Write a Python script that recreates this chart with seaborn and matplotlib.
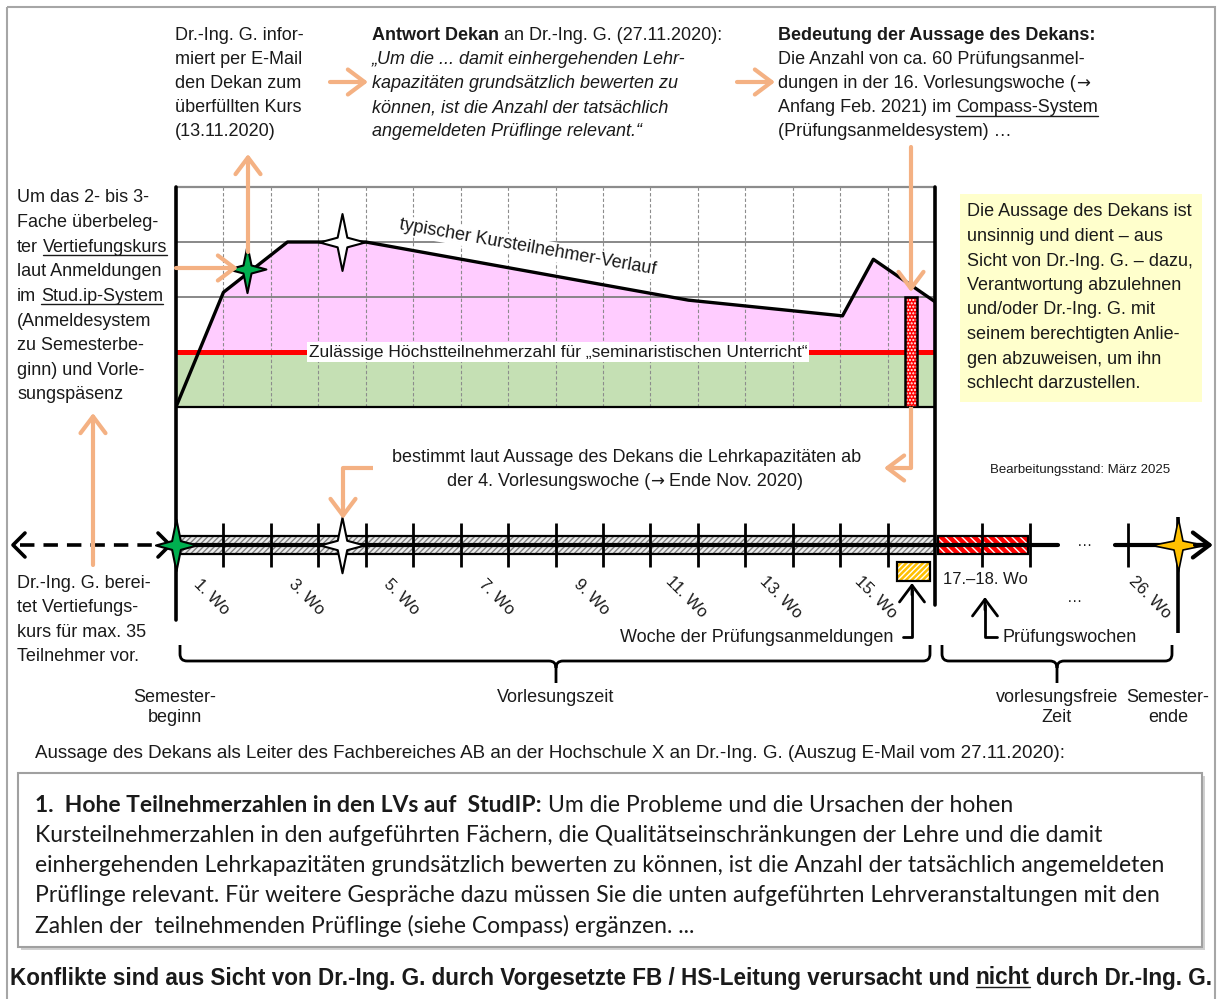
import numpy as np
import pandas as pd
import matplotlib
matplotlib.use('Agg')
import matplotlib.pyplot as plt
import matplotlib.transforms as mtransforms
from matplotlib.path import Path
from matplotlib.patches import Rectangle, PathPatch
import seaborn as sns

# course participants over the lecture weeks
weeks = [0, 1.0, 2.35, 4.0, 10.8, 14.05, 14.7, 16]
participants = [0, 73, 105, 105, 68, 58, 94, 67]
seminar_limit = 35
grid_levels = [70, 105]
y_top = 140
exam_week = 15.5
exam_registrations = 70
star_weeks = [1.5, 3.5]
star_values = [88, 105]
lecture_ticks = list(range(1, 16))
label_weeks = [1, 3, 5, 7, 9, 11, 13, 15]
exam_ticks = [17, 18]

ORANGE = '#F4B183'
GREEN = '#00B050'
GOLD = '#FFC000'
TXT = '#1a1a1a'

sns.set_theme(style='white')
plt.rcParams['font.family'] = ['Liberation Sans', 'DejaVu Sans']
plt.rcParams['hatch.linewidth'] = 1.0

fig = plt.figure(figsize=(12.19, 9.99), dpi=100)
ov = fig.add_axes([0, 0, 1, 1])
ov.set_xlim(0, 1219)
ov.set_ylim(999, 0)
ov.axis('off')
ov.set_zorder(3)

X0, X1, YT, YB = 176, 935, 187, 407
ax = fig.add_axes([X0 / 1219, 1 - YB / 999, (X1 - X0) / 1219, (YB - YT) / 999])
ax.set_xlim(0, 16)
ax.set_ylim(0, y_top)
ax.axis('off')
renderer = fig.canvas.get_renderer()

# x in weeks, y in pixels for the timeline
tt = mtransforms.blended_transform_factory(ax.transData, ov.transData)


def star_path(wr=0.8, inner=0.17):
    v = [(0, 1), (inner, inner), (wr, 0), (inner, -inner), (0, -1),
         (-inner, -inner), (-wr, 0), (-inner, inner), (0, 1)]
    return Path(v, [Path.MOVETO] + [Path.LINETO] * 7 + [Path.CLOSEPOLY])


STAR = star_path()
STAR_W = star_path(1.0, 0.17)
ARR = {'family': 'DejaVu Sans', 'fontsize': 12}


def tw(s, **st):
    t = ov.text(0, 0, s, **st)
    w = t.get_window_extent(renderer).width
    t.remove()
    return w


def runs(x, y, parts, size=13, ul_off=8):
    for txt, st, ul in parts:
        st = dict(st)
        st.setdefault('fontsize', size)
        sp = tw('x x', **st) - tw('xx', **st)
        core = txt.strip(' ')
        x += (len(txt) - len(txt.lstrip(' '))) * sp
        t = ov.text(x, y, core, ha='left', va='center', color=TXT, **st)
        w = t.get_window_extent(renderer).width
        if ul:
            ov.plot([x, x + w], [y + ul_off, y + ul_off], color=TXT, lw=1)
        x += w + (len(txt) - len(txt.rstrip(' '))) * sp


def lines(x, y0, dy, items, size=13, ha='left', **kw):
    for i, it in enumerate(items):
        if isinstance(it, str):
            ov.text(x, y0 + i * dy, it, ha=ha, va='center', fontsize=size, color=TXT, **kw)
        else:
            runs(x, y0 + i * dy, it, size=size)


def arrow(p0, p1, color=ORANGE, lw=3, hl=0.6, hw=0.45):
    ov.annotate('', xy=p1, xytext=p0,
                arrowprops=dict(arrowstyle=f'->,head_length={hl},head_width={hw}',
                                color=color, lw=lw, shrinkA=0, shrinkB=0,
                                mutation_scale=20))


def brace(x0, x1, xm, ytop, ybar, ytip, r=7):
    v = [(x0, ytop), (x0, ybar - r), (x0, ybar), (x0 + r, ybar), (xm - r, ybar),
         (xm, ybar), (xm, ybar + r), (xm, ytip),
         (xm, ybar + r), (xm, ybar), (xm + r, ybar), (x1 - r, ybar),
         (x1, ybar), (x1, ybar - r), (x1, ytop)]
    c = [Path.MOVETO, Path.LINETO, Path.CURVE3, Path.CURVE3, Path.LINETO,
         Path.CURVE3, Path.CURVE3, Path.LINETO,
         Path.MOVETO, Path.CURVE3, Path.CURVE3, Path.LINETO,
         Path.CURVE3, Path.CURVE3, Path.LINETO]
    ov.add_patch(PathPatch(Path(v, c), fill=False, lw=2, edgecolor='black'))


# outer frame
ov.add_patch(Rectangle((7, 7), 1208, 1010, fill=False, edgecolor='#A6A6A6', lw=1.5))

# ---------------- chart ----------------
ax.fill_between([0, 16], 0, seminar_limit, color='#C5E0B4', lw=0, zorder=1)
w = np.array(weeks)
p = np.array(participants)
ax.fill_between(w, seminar_limit, p, where=p >= seminar_limit, interpolate=True,
                color='#FFCCFF', lw=0, zorder=1)
ax.vlines(lecture_ticks, 0, y_top, colors='#8c8c8c', linestyles=(0, (3, 2)), lw=0.8, zorder=2)
ax.hlines(grid_levels, 0, 16, colors='#7f7f7f', lw=1.3, zorder=2)
ax.hlines([y_top], 0, 16, colors='#8c8c8c', lw=1.6, zorder=2, clip_on=False)
ax.hlines([0], 0, 16, colors='black', lw=1.6, zorder=2, clip_on=False)
ax.axhline(seminar_limit, color='#FF0000', lw=3.6, zorder=3)
ax.text(7.42, 101.5, 'typischer Kursteilnehmer-Verlauf', rotation=-10, ha='center', va='center',
        fontsize=13, color=TXT, zorder=3, bbox=dict(fc='white', ec='none', pad=1))
ax.text(8.05, seminar_limit, 'Zulässige Höchstteilnehmerzahl für „seminaristischen Unterricht“',
        ha='center', va='center', fontsize=12.5, color=TXT, zorder=4,
        bbox=dict(fc='white', ec='none', pad=1.5))
curve = pd.DataFrame({'Woche': weeks, 'Teilnehmer': participants})
sns.lineplot(data=curve, x='Woche', y='Teilnehmer', ax=ax, color='black', lw=2.4,
             sort=False, estimator=None, zorder=5)
ax.set_xlim(0, 16)
ax.set_ylim(0, y_top)
ax.axis('off')
ax.bar(exam_week, exam_registrations, width=0.25, color='#FF0000', edgecolor='white',
       hatch='.....', lw=0, zorder=6)
ax.bar(exam_week, exam_registrations, width=0.25, fill=False, edgecolor='black', lw=1.8, zorder=7)
ax.plot(star_weeks[:1], star_values[:1], marker=STAR, ms=34, mfc=GREEN, mec='black',
        mew=1.5, ls='none', zorder=8, clip_on=False)
ax.plot(star_weeks[1:], star_values[1:], marker=STAR, ms=41, mfc='white', mec='black',
        mew=1.5, ls='none', zorder=8, clip_on=False)

# vertical frame lines of the chart
ov.plot([X0, X0], [YT, 620], color='black', lw=2.6)
ov.plot([X1, X1], [YT, 605], color='black', lw=2.6)

# ---------------- top texts ----------------
lines(175, 35, 24.2, ['Dr.-Ing. G. infor-', 'miert per E-Mail', 'den Dekan zum',
                      'überfüllten Kurs', '(13.11.2020)'])
lines(372, 35, 24.2, [
    [('Antwort Dekan', {'fontweight': 'bold'}, False), (' an Dr.-Ing. G. (27.11.2020):', {}, False)],
])
lines(372, 59.2, 24.2, ['„Um die ... damit einhergehenden Lehr-', 'kapazitäten grundsätzlich bewerten zu',
                        'können, ist die Anzahl der tatsächlich', 'angemeldeten Prüflinge relevant.“'],
      style='italic')
lines(778, 35, 24.2, [
    [('Bedeutung der Aussage des Dekans:', {'fontweight': 'bold'}, False)],
    'Die Anzahl von ca. 60 Prüfungsanmel-',
    [('dungen in der 16. Vorlesungswoche (', {}, False), ('→', ARR, False)],
    [('Anfang Feb. 2021) im ', {}, False), ('Compass-System', {}, True)],
    '(Prüfungsanmeldesystem) …',
])
arrow((330, 82), (368, 82))
arrow((737, 82), (775, 82))

# left texts
lines(17, 198, 24.6, [
    'Um das 2- bis 3-', 'Fache überbeleg-',
    [('ter ', {}, False), ('Vertiefungskurs', {}, True)],
    'laut Anmeldungen',
    [('im ', {}, False), ('Stud.ip-System', {}, True)],
    '(Anmeldesystem', 'zu Semesterbe-', 'ginn) und Vorle-', 'sungspäsenz',
])
lines(17, 583, 24.6, ['Dr.-Ing. G. berei-', 'tet Vertiefungs-', 'kurs für max. 35', 'Teilnehmer vor.'])
arrow((93, 565), (93, 413))
arrow((X0, 268), (238, 268))
arrow((248, 252), (248, 154))

# yellow note
ov.add_patch(Rectangle((960, 194), 242, 208, facecolor='#FFFFCC', edgecolor='none'))
lines(967, 212, 24.5, ['Die Aussage des Dekans ist', 'unsinnig und dient – aus',
                       'Sicht von Dr.-Ing. G. – dazu,', 'Verantwortung abzulehnen',
                       'und/oder Dr.-Ing. G. mit', 'seinem berechtigten Anlie-',
                       'gen abzuweisen, um ihn', 'schlecht darzustellen.'])

# arrow to the exam registrations and onward
arrow((911, 147), (911, 292))
ov.plot([911, 911, 893], [YB, 468, 468], color=ORANGE, lw=3, solid_capstyle='butt')
arrow((896, 468), (884, 468))
ov.text(627, 458, 'bestimmt laut Aussage des Dekans die Lehrkapazitäten ab', ha='center',
        va='center', fontsize=13, color=TXT)
runs(447, 482, [('der 4. Vorlesungswoche (', {}, False), ('→', ARR, False),
                (' Ende Nov. 2020)', {}, False)])
ov.plot([373, 343, 343], [468, 468, 505], color=ORANGE, lw=3, solid_capstyle='butt')
arrow((343, 500), (343, 519))
ov.text(1080, 470, 'Bearbeitungsstand: März 2025', ha='center', va='center', fontsize=9.5, color=TXT)

# ---------------- timeline ----------------
TY = 545
ov.add_patch(Rectangle((0, TY - 9), 16, 18, transform=tt, facecolor='#EDEDED',
                       edgecolor='#7f7f7f', hatch='//////', lw=0))
ov.add_patch(Rectangle((0, TY - 9), 16, 18, transform=tt, fill=False, edgecolor='black', lw=1.6))
ov.add_patch(Rectangle((16.06, TY - 9), 1.9, 18, transform=tt, facecolor='#FF0000',
                       edgecolor='white', hatch='\\\\\\\\', lw=0))
ov.add_patch(Rectangle((16.06, TY - 9), 1.9, 18, transform=tt, fill=False, edgecolor='black', lw=1.6))
ov.plot([0, 18.6], [TY, TY], transform=tt, color='black', lw=3)
ov.plot([1115, 1205], [TY, TY], color='black', lw=3)
arrow((1195, TY), (1213, TY), color='black', lw=3)
ov.vlines(lecture_ticks + exam_ticks, TY - 22, TY + 22, transform=tt, colors='black', lw=2)
ov.vlines([1128], TY - 22, TY + 22, colors='black', lw=2)
ov.vlines([1178], TY - 28, 633, colors='black', lw=2.6)
ov.plot([20, 168], [TY, TY], color='black', lw=2.6, ls=(0, (4, 2.5)))
ov.plot([25, 13, 25], [TY - 12, TY, TY + 12], color='black', lw=2.6)
ov.plot([158, 170, 158], [TY - 12, TY, TY + 12], color='black', lw=2.6)
ov.text(1085, TY - 3, '…', ha='center', va='center', fontsize=11, color=TXT)
ov.text(1075, 598, '…', ha='center', va='center', fontsize=11, color=TXT)
ov.plot([0], [TY], transform=tt, marker=STAR, ms=37, mfc=GREEN, mec='black', mew=1.5, ls='none', clip_on=False)
ov.plot([3.5], [TY], transform=tt, marker=STAR, ms=40, mfc='white', mec='black', mew=1.5, ls='none', clip_on=False)
ov.plot([1178], [TY], marker=STAR_W, ms=38, mfc=GOLD, mec='black', mew=1.2, ls='none', clip_on=False)

for k in label_weeks:
    ov.text(k - 0.25, 597, f'{k}. Wo', transform=tt, rotation=-45, rotation_mode='anchor',
            ha='center', va='center', fontsize=12, color=TXT)
ov.text(1150, 597, '26. Wo', rotation=-45, rotation_mode='anchor', ha='center', va='center',
        fontsize=12, color=TXT)
ov.text(985, 579, '17.–18. Wo', ha='center', va='center', fontsize=12, color=TXT)

# exam registration week box
ov.add_patch(Rectangle((897, 562), 33, 19, facecolor=GOLD, edgecolor='white', hatch='//////', lw=0))
ov.add_patch(Rectangle((897, 562), 33, 19, fill=False, edgecolor='black', lw=1.6))
ov.plot([903, 912, 912], [637, 637, 590], color='black', lw=2)
arrow((912, 595), (912, 583), color='black', lw=2)
ov.text(893, 637, 'Woche der Prüfungsanmeldungen', ha='right', va='center', fontsize=13, color=TXT)
ov.plot([997, 985, 985], [637, 637, 605], color='black', lw=2)
arrow((985, 610), (985, 597), color='black', lw=2)
ov.text(1003, 637, 'Prüfungswochen', ha='left', va='center', fontsize=13, color=TXT)

brace(180, 930, 556, 645, 661, 683)
brace(942, 1172, 1057, 645, 661, 683)
lines(175, 697, 21, ['Semester-', 'beginn'], ha='center')
lines(556, 697, 21, ['Vorlesungszeit'], ha='center')
lines(1057, 697, 21, ['vorlesungsfreie', 'Zeit'], ha='center')
lines(1168, 697, 21, ['Semester-', 'ende'], ha='center')

# ---------------- e-mail excerpt ----------------
head = 'Aussage des Dekans als Leiter des Fachbereiches AB an der Hochschule X an Dr.-Ing. G. (Auszug E-Mail vom 27.11.2020):'
hs = 13 * 1028 / tw(head, fontsize=13)
ov.text(35, 754, head, ha='left', va='center', fontsize=hs, color=TXT)

ov.add_patch(Rectangle((21, 776), 1184, 174, facecolor='#D0D0D0', edgecolor='none'))
ov.add_patch(Rectangle((18, 773), 1184, 174, facecolor='white', edgecolor='#A0A0A0', lw=1.5))
MF = 'Lato'
mail = ['Kursteilnehmerzahlen in den aufgeführten Fächern, die Qualitätseinschränkungen der Lehre und die damit',
        'einhergehenden Lehrkapazitäten grundsätzlich bewerten zu können, ist die Anzahl der tatsächlich angemeldeten',
        'Prüflinge relevant. Für weitere Gespräche dazu müssen Sie die unten aufgeführten Lehrveranstaltungen mit den',
        'Zahlen der  teilnehmenden Prüflinge (siehe Compass) ergänzen. ...']
ms = 14 * 1128 / tw(mail[1], fontsize=14, family=MF)
runs(35, 806, [('1.  Hohe Teilnehmerzahlen in den LVs auf  StudIP:', {'fontweight': 'bold', 'family': MF}, False),
               (' Um die Probleme und die Ursachen der hohen', {'family': MF}, False)], size=ms)
for i, ln in enumerate(mail):
    ov.text(35, 836 + 30 * i, ln, ha='left', va='center', fontsize=ms, family=MF, color=TXT)

foot = 'Konflikte sind aus Sicht von Dr.-Ing. G. durch Vorgesetzte FB / HS-Leitung verursacht und nicht durch Dr.-Ing. G.'
fs = 13 * 1203 / tw(foot, fontsize=13, fontweight='bold')
B = {'fontweight': 'bold'}
runs(10, 978, [('Konflikte sind aus Sicht von Dr.-Ing. G. durch Vorgesetzte FB / HS-Leitung verursacht und ', B, False),
               ('nicht', B, True), (' durch Dr.-Ing. G.', B, False)], size=fs, ul_off=9)

fig.savefig('out.png', dpi=100)
